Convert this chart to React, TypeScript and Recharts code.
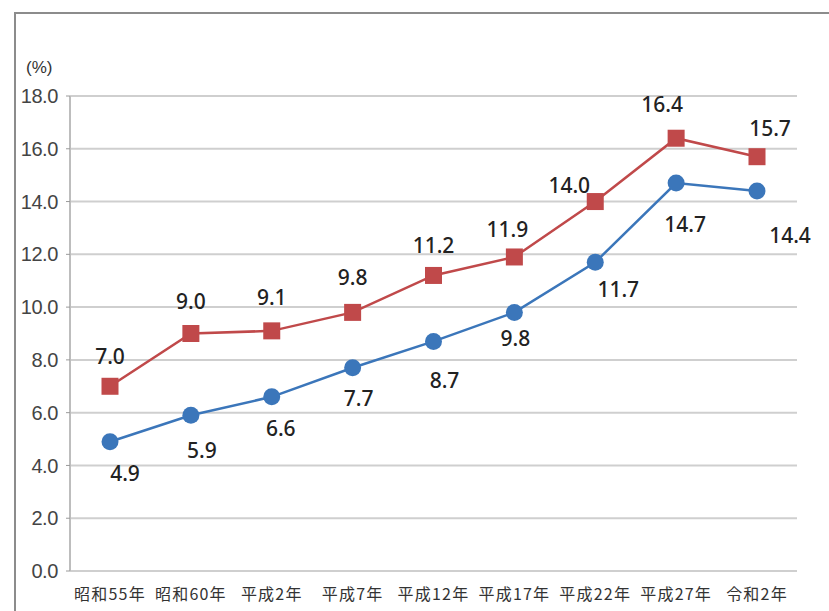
import { CartesianGrid, Line, LineChart, XAxis, YAxis } from 'recharts';

const YEARS = ['昭和55年', '昭和60年', '平成2年', '平成7年', '平成12年', '平成17年', '平成22年', '平成27年', '令和2年'];
const RED_VALUES = [7.0, 9.0, 9.1, 9.8, 11.2, 11.9, 14.0, 16.4, 15.7];
const BLUE_VALUES = [4.9, 5.9, 6.6, 7.7, 8.7, 9.8, 11.7, 14.7, 14.4];
const Y_TICKS = [0, 2, 4, 6, 8, 10, 12, 14, 16, 18];
const BOUNDARY_TICKS = [0, 1, 2, 3, 4, 5, 6, 7, 8, 9];

// label nudges (dx, dy from the point), the source places them by hand
const RED_LABEL_OFFSETS = [[0, -30], [0, -33], [0, -34], [0, -35], [0, -30], [-7, -28], [-26, -17], [-14, -34], [13, -29]];
const BLUE_LABEL_OFFSETS = [[15, 31], [11, 35], [9, 31], [6, 30], [11, 39], [1, 26], [23, 27], [9, 41], [33, 44]];

const RED = '#c0494a';
const BLUE = '#3b76ba';

const data = YEARS.map((year, i) => ({ year, red: RED_VALUES[i], blue: BLUE_VALUES[i] }));

function SquareDot(props: any) {
  const { cx, cy, index } = props;
  if (cx == null || cy == null) return null;
  return <rect key={`sq-${index}`} x={cx - 8.5} y={cy - 8.5} width={17} height={17} fill={RED} />;
}

function CircleDot(props: any) {
  const { cx, cy, index } = props;
  if (cx == null || cy == null) return null;
  return <circle key={`ci-${index}`} cx={cx} cy={cy} r={8.5} fill={BLUE} />;
}

function makeLabel(offsets: number[][]) {
  return (props: any) => {
    const { x, y, value, index } = props;
    const [dx, dy] = offsets[index] ?? [0, 0];
    return (
      <text
        x={x + dx}
        y={y + dy}
        textAnchor="middle"
        dominantBaseline="central"
        fontFamily="'Noto Sans', sans-serif"
        fontSize={21}
        fontWeight={500}
        fill="#222"
      >
        {Number(value).toFixed(1)}
      </text>
    );
  };
}

export default function App() {
  return (
    <div style={{ position: 'absolute', left: 0, top: 0, width: 829, height: 611, overflow: 'hidden', background: '#fff' }}>
      <div
        style={{
          position: 'absolute',
          left: 14,
          top: 12,
          width: 900,
          height: 700,
          border: '2px solid #8c8c8c',
        }}
      />
      <div
        style={{
          position: 'absolute',
          left: 26,
          top: 58,
          fontFamily: "'Liberation Sans', Arial, sans-serif",
          fontSize: 17,
          color: '#333',
        }}
      >
        (%)
      </div>
      <div style={{ position: 'absolute', left: 0, top: 0 }}>
        <LineChart width={829} height={611} data={data} margin={{ top: 96, right: 32, bottom: 0, left: 0 }}>
          <CartesianGrid vertical={false} stroke="#cfcfcf" strokeWidth={2} />
          <XAxis
            xAxisId="bounds"
            type="number"
            domain={[0, 9]}
            ticks={BOUNDARY_TICKS}
            tick={false}
            height={0}
            axisLine={{ stroke: '#bdbdbd', strokeWidth: 2 }}
            tickLine={{ stroke: '#bdbdbd', strokeWidth: 1.5 }}
            tickSize={5}
          />
          <XAxis
            dataKey="year"
            height={40}
            padding={{ left: 40, right: 40 }}
            tickLine={false}
            axisLine={false}
            tickMargin={12}
            interval={0}
            tick={{ fontFamily: "'Noto Sans CJK JP', sans-serif", fontSize: 16, fill: '#333', letterSpacing: 1.2 }}
          />
          <YAxis
            width={70}
            domain={[0, 18]}
            ticks={Y_TICKS}
            tickFormatter={(v: number) => v.toFixed(1)}
            axisLine={{ stroke: '#bdbdbd', strokeWidth: 2 }}
            tickLine={{ stroke: '#9a9a9a' }}
            tickSize={4}
            tickMargin={8}
            tick={{ fontFamily: "'Liberation Sans', Arial, sans-serif", fontSize: 20, fill: '#444', letterSpacing: -0.4 }}
          />
          <Line
            dataKey="red"
            stroke={RED}
            strokeWidth={2.5}
            dot={<SquareDot />}
            activeDot={false}
            label={makeLabel(RED_LABEL_OFFSETS)}
            isAnimationActive={false}
          />
          <Line
            dataKey="blue"
            stroke={BLUE}
            strokeWidth={2.5}
            dot={<CircleDot />}
            activeDot={false}
            label={makeLabel(BLUE_LABEL_OFFSETS)}
            isAnimationActive={false}
          />
        </LineChart>
      </div>
    </div>
  );
}
